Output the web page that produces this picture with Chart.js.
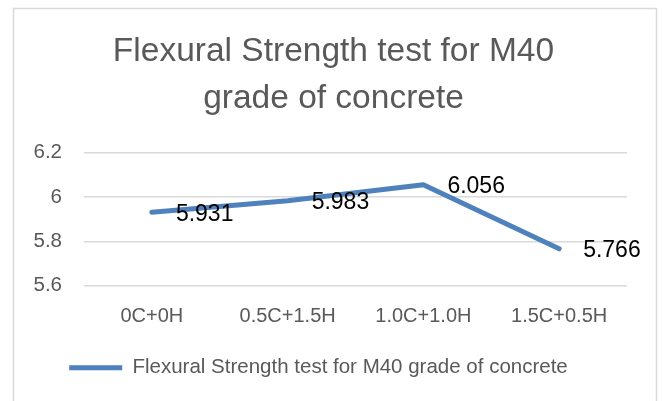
<!DOCTYPE html>
<html>
<head>
<meta charset="utf-8">
<script src="https://cdn.jsdelivr.net/npm/chart.js@4"></script>
<style>
  html, body { margin: 0; padding: 0; background: #fff; }
  #wrap { width: 663px; height: 401px; }
</style>
</head>
<body>
<div id="wrap"><canvas id="flexChart"></canvas></div>
<script>
// chart data
const mixes = ['0C+0H', '0.5C+1.5H', '1.0C+1.0H', '1.5C+0.5H'];
const strength = [5.931, 5.983, 6.056, 5.766];
const yTicks = [5.6, 5.8, 6, 6.2];
const seriesName = 'Flexural Strength test for M40 grade of concrete';
const titleLines = ['Flexural Strength test for M40', 'grade of concrete'];

const FONT = "'Liberation Sans', Arial, sans-serif";
const GREY = '#595959';
const BLUE = '#4f81bd';

// light grey frame around the whole chart, like the Excel chart border
const framePlugin = {
    id: 'frame',
    beforeDraw(chart) {
        const ctx = chart.ctx;
        ctx.save();
        ctx.strokeStyle = '#d9d9d9';
        ctx.lineWidth = 1.5;
        ctx.strokeRect(13.5, 8.5, 643, 420);
        ctx.restore();
    }
};

// Excel centres the title on the frame and the legend a bit left of it
const boxShift = {
    id: 'boxShift',
    afterLayout(chart) {
        if (chart.titleBlock) {
            chart.titleBlock.left += 8;
            chart.titleBlock.right += 8;
        }
        if (chart.legend) {
            chart.legend.left -= 7;
            chart.legend.right -= 7;
        }
    }
};

// value labels to the right of each point
const valueLabels = {
    id: 'valueLabels',
    afterDatasetsDraw(chart) {
        const ctx = chart.ctx;
        const meta = chart.getDatasetMeta(0);
        ctx.save();
        ctx.font = '23px ' + FONT;
        ctx.fillStyle = '#000';
        ctx.textAlign = 'left';
        ctx.textBaseline = 'middle';
        meta.data.forEach((pt, i) => {
            ctx.fillText(String(strength[i]), pt.x + 24, pt.y + 2);
        });
        ctx.restore();
    }
};

function drawChart() {
    const ctx = document.getElementById('flexChart');

    new Chart(ctx, {
        type: 'line',
        data: {
            labels: mixes,
            datasets: [{
                label: seriesName,
                data: strength,
                borderColor: BLUE,
                backgroundColor: BLUE,
                borderWidth: 5,
                borderCapStyle: 'round',
                borderJoinStyle: 'round',
                pointRadius: 0,
                tension: 0,
                fill: false
            }]
        },
        options: {
            responsive: true,
            maintainAspectRatio: false,
            animation: false,
            layout: {
                padding: { left: 24, right: 36, top: 0, bottom: 13 }
            },
            scales: {
                x: {
                    offset: true,
                    grid: { display: false, drawTicks: false },
                    border: { display: false },
                    ticks: {
                        color: GREY,
                        font: { family: FONT, size: 20 },
                        padding: 19,
                        maxRotation: 0
                    }
                },
                y: {
                    min: 5.6,
                    max: 6.2,
                    afterBuildTicks: scale => {
                        scale.ticks = yTicks.map(v => ({ value: v }));
                    },
                    afterFit: scale => { scale.width = 60; },
                    grid: { color: '#d9d9d9', lineWidth: 1.5, drawTicks: false },
                    border: { display: false },
                    ticks: {
                        color: GREY,
                        font: { family: FONT, size: 20.5 },
                        padding: 22,
                        callback: v => String(v)
                    }
                }
            },
            plugins: {
                title: {
                    display: true,
                    text: titleLines,
                    color: GREY,
                    font: { family: FONT, size: 33.5, weight: 'normal', lineHeight: 1.4 },
                    padding: { top: 28.5, bottom: 30.5 }
                },
                legend: {
                    display: true,
                    position: 'bottom',
                    labels: {
                        color: GREY,
                        font: { family: FONT, size: 20.5 },
                        usePointStyle: true,
                        pointStyle: 'line',
                        pointStyleWidth: 53,
                        boxWidth: 53,
                        padding: 10
                    }
                },
                tooltip: { enabled: false }
            }
        },
        plugins: [framePlugin, boxShift, valueLabels]
    });
}

document.addEventListener('DOMContentLoaded', drawChart);
</script>
</body>
</html>
